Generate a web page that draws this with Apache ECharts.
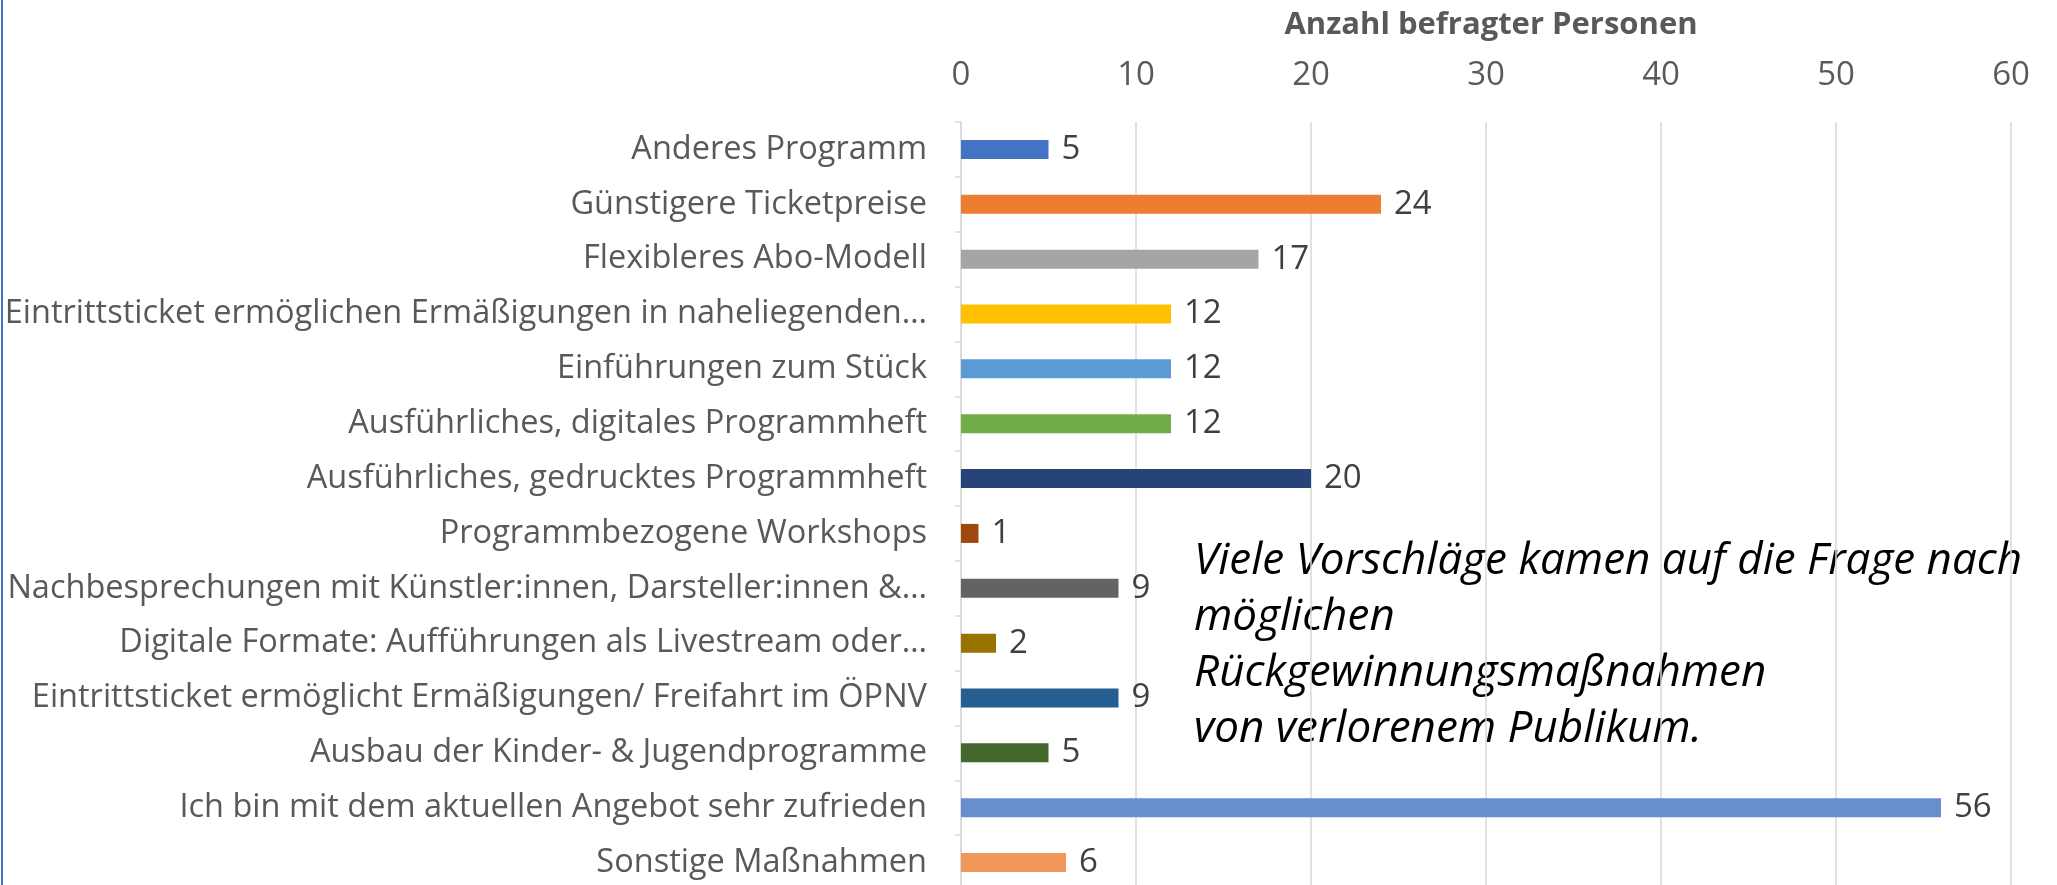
<!DOCTYPE html>
<html>
<head>
<meta charset="utf-8">
<script src="https://cdn.jsdelivr.net/npm/echarts@6/dist/echarts.min.js"></script>
<style>
  html, body { margin: 0; padding: 0; background: #fff; }
  #chart { width: 2057px; height: 885px; }
</style>
</head>
<body>
<div id="chart"></div>
<script>
const categories = [
  'Anderes Programm',
  'Günstigere Ticketpreise',
  'Flexibleres Abo-Modell',
  'Eintrittsticket ermöglichen Ermäßigungen in naheliegenden…',
  'Einführungen zum Stück',
  'Ausführliches, digitales Programmheft',
  'Ausführliches, gedrucktes Programmheft',
  'Programmbezogene Workshops',
  'Nachbesprechungen mit Künstler:innen, Darsteller:innen &…',
  'Digitale Formate: Aufführungen als Livestream oder…',
  'Eintrittsticket ermöglicht Ermäßigungen/ Freifahrt im ÖPNV',
  'Ausbau der Kinder- & Jugendprogramme',
  'Ich bin mit dem aktuellen Angebot sehr zufrieden',
  'Sonstige Maßnahmen'
];
const personen = [5, 24, 17, 12, 12, 12, 20, 1, 9, 2, 9, 5, 56, 6];
const barColors = [
  '#4472C4', '#ED7D31', '#A5A5A5', '#FFC000', '#5B9BD5', '#70AD47', '#264478',
  '#9E480E', '#636363', '#997300', '#255E91', '#43682B', '#698ED0', '#F1975A'
];
const axisTitle = 'Anzahl befragter Personen';
const note = 'Viele Vorschläge kamen auf die Frage nach\nmöglichen\nRückgewinnungsmaßnahmen\nvon verlorenem Publikum.';

const font = "'Open Sans', sans-serif";

const chart = echarts.init(document.getElementById('chart'));
chart.setOption({
  animation: false,
  title: {
    text: axisTitle,
    left: 1486,
    top: 5,
    textAlign: 'center',
    textStyle: { fontFamily: font, fontSize: 31, fontWeight: 'bold', color: '#595959' }
  },
  grid: { left: 961, right: 46, top: 122, bottom: -5, containLabel: false, outerBoundsMode: 'none' },
  xAxis: {
    type: 'value',
    position: 'top',
    min: 0,
    max: 60,
    interval: 10,
    axisLine: { show: false },
    axisTick: { show: false },
    axisLabel: { margin: 30, fontFamily: font, fontSize: 33, color: '#595959' },
    splitLine: { lineStyle: { color: '#D9D9D9', width: 1.5 } }
  },
  yAxis: {
    type: 'category',
    inverse: true,
    data: categories,
    axisLine: { lineStyle: { color: '#D9D9D9', width: 1.5 } },
    axisTick: { show: true, length: 6, lineStyle: { color: '#D9D9D9', width: 1.5 } },
    axisLabel: { margin: 34, fontFamily: font, fontSize: 32.5, color: '#595959' }
  },
  series: [{
    type: 'bar',
    data: personen.map((v, i) => ({ value: v, itemStyle: { color: barColors[i] } })),
    barWidth: 19,
    label: {
      show: true,
      position: 'right',
      distance: 13,
      fontFamily: font,
      fontSize: 33,
      color: '#404040'
    }
  }],
  graphic: [
    {
      type: 'line',
      shape: { x1: 2, y1: 0, x2: 2, y2: 885 },
      style: { stroke: '#4472C4', lineWidth: 2 }
    },
    {
      type: 'text',
      left: 1194,
      top: 533,
      style: {
        text: note,
        font: "italic 44px 'Open Sans', sans-serif",
        lineHeight: 56,
        fill: '#000'
      }
    }
  ]
});
</script>
</body>
</html>
